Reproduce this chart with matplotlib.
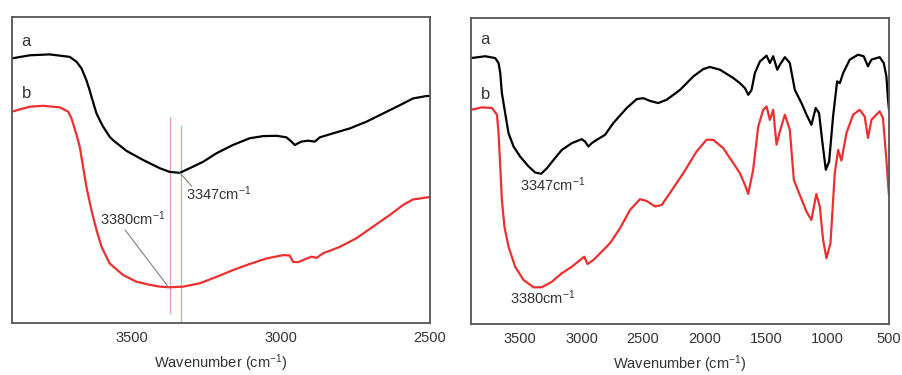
import numpy as np
import matplotlib
matplotlib.use('Agg')
import matplotlib.pyplot as plt

plt.rcParams['font.family'] = ['Liberation Sans', 'DejaVu Sans']
plt.rcParams['mathtext.fontset'] = 'custom'
plt.rcParams['mathtext.rm'] = 'Liberation Sans'
plt.rcParams['mathtext.it'] = 'Liberation Sans'

# ---- left panel: O-H region (arbitrary transmittance units, 0..100) ----
left_wn_a = [3900, 3841, 3774, 3707, 3684, 3667, 3651, 3640, 3634, 3617, 3606,
             3595, 3573, 3562, 3517, 3461, 3405, 3372, 3338, 3305, 3260, 3215,
             3160, 3104, 3059, 3014, 2981, 2964, 2953, 2931, 2909, 2886, 2869,
             2825, 2769, 2713, 2657, 2601, 2557, 2512, 2500]
left_a = [86.4, 87.4, 87.7, 86.9, 85.3, 83.1, 79.3, 76.0, 73.9, 68.4, 66.2,
          64.1, 60.8, 59.7, 56.2, 53.2, 50.5, 49.3, 49.0, 50.5, 52.6, 55.4,
          58.1, 60.3, 61.0, 61.1, 60.6, 59.2, 58.1, 59.2, 59.5, 59.2, 60.6,
          61.9, 63.5, 65.7, 68.4, 71.1, 73.3, 74.1, 74.1]

left_wn_b = [3900, 3841, 3796, 3740, 3712, 3701, 3684, 3673, 3662, 3651, 3634,
             3617, 3600, 3573, 3528, 3483, 3439, 3405, 3372, 3327, 3271, 3215,
             3160, 3104, 3048, 2992, 2970, 2959, 2942, 2925, 2897, 2880, 2858,
             2802, 2747, 2691, 2635, 2590, 2557, 2507, 2500]
left_b = [69.0, 70.6, 70.9, 70.4, 69.0, 66.8, 61.5, 57.5, 51.0, 44.5, 36.8,
          30.3, 24.8, 19.4, 15.6, 13.4, 12.4, 11.8, 11.6, 11.8, 12.9, 15.0,
          17.2, 19.2, 21.0, 22.1, 22.0, 19.9, 19.8, 20.5, 21.6, 21.2, 22.7,
          24.8, 27.6, 31.4, 35.2, 38.5, 40.3, 41.0, 41.0]

# ---- right panel: full spectrum ----
right_wn_a = [3900, 3784, 3703, 3676, 3662, 3649, 3622, 3595, 3554, 3500, 3432,
              3378, 3329, 3283, 3229, 3161, 3080, 2999, 2972, 2945, 2918, 2877,
              2810, 2742, 2633, 2552, 2498, 2444, 2377, 2308, 2200, 2092, 2011,
              1957, 1875, 1767, 1713, 1672, 1645, 1618, 1591, 1550, 1496, 1469,
              1442, 1409, 1388, 1347, 1307, 1266, 1212, 1171, 1131, 1096, 1069,
              1041, 1014, 987, 955, 922, 900, 873, 819, 752, 706, 671, 643, 576,
              543, 521, 508, 500]
right_a = [86.9, 87.5, 86.9, 85.3, 82.0, 75.5, 68.9, 62.4, 58.0, 54.7, 51.5,
           49.5, 49.1, 50.9, 53.6, 56.9, 59.1, 60.4, 59.6, 58.0, 59.1, 60.2,
           61.8, 65.7, 70.6, 73.5, 73.8, 72.9, 72.2, 73.3, 76.5, 80.9, 83.3,
           84.0, 83.1, 80.4, 78.7, 77.1, 74.9, 76.5, 82.0, 85.8, 87.7, 85.3,
           87.5, 83.1, 84.7, 87.2, 85.3, 76.5, 72.2, 68.4, 65.1, 70.6, 68.9,
           59.1, 50.4, 53.1, 67.8, 79.3, 78.7, 82.0, 86.4, 88.0, 87.5, 84.2,
           86.4, 87.2, 85.3, 80.9, 73.3, 70.0]

right_wn_b = [3900, 3811, 3730, 3689, 3676, 3662, 3649, 3628, 3595, 3541, 3473,
              3392, 3324, 3242, 3161, 3080, 3013, 2978, 2953, 2905, 2850, 2769,
              2688, 2606, 2525, 2471, 2403, 2349, 2282, 2173, 2065, 1984, 1930,
              1849, 1767, 1713, 1672, 1645, 1605, 1564, 1523, 1496, 1469, 1442,
              1415, 1388, 1347, 1307, 1274, 1226, 1171, 1131, 1091, 1063, 1036,
              1009, 976, 941, 914, 887, 846, 792, 738, 698, 671, 643, 603, 576,
              549, 521, 508, 500]
right_b = [70.0, 70.8, 70.6, 68.4, 62.4, 51.5, 40.6, 31.8, 25.3, 18.7, 14.4,
           12.0, 12.0, 13.8, 16.6, 18.7, 20.9, 22.0, 19.6, 20.9, 23.1, 26.4,
           31.3, 37.3, 40.8, 40.2, 38.4, 38.9, 42.8, 49.3, 56.4, 60.2, 60.2,
           57.5, 52.6, 49.3, 45.5, 42.5, 50.4, 64.5, 70.0, 71.1, 66.7, 70.0,
           58.6, 62.9, 68.4, 63.5, 47.1, 42.2, 36.7, 34.0, 42.5, 38.4, 27.5,
           21.5, 26.4, 49.3, 56.9, 53.4, 62.4, 68.4, 70.0, 67.8, 60.8, 66.7,
           68.4, 69.5, 67.3, 53.6, 46.0, 42.0]

# peak markers
marker_b = 3372
marker_a = 3335

RED = '#ee2f2f'
FRAME = '#555555'
TEXT = '#333333'
LEADER = '#808080'


def style(ax, xlim, ticks):
    ax.set_xlim(*xlim)
    ax.set_ylim(0, 100)
    ax.set_xticks(ticks)
    ax.set_yticks([])
    ax.tick_params(axis='x', length=0, pad=6, labelsize=10.5, colors=TEXT)
    for s in ax.spines.values():
        s.set_color(FRAME)
        s.set_linewidth(1.3)
    ax.set_xlabel('Wavenumber (cm$^{-1}$)', fontsize=10.5, color=TEXT, labelpad=5)


fig = plt.figure(figsize=(9.03, 3.75), dpi=100)
ax1 = fig.add_axes([0.0133, 0.1393, 0.4629, 0.816])
ax2 = fig.add_axes([0.5216, 0.136, 0.4629, 0.816])

# left
ax1.plot([marker_b, marker_b], [3.2, 67.3], color='#e8a0b8', lw=1.0)
ax1.plot([marker_a, marker_a], [0, 64.3], color='#8fd6a2', lw=1.0)
ax1.plot(left_wn_a, left_a, color='black', lw=1.6)
ax1.plot(left_wn_b, left_b, color=RED, lw=1.6)
ax1.plot([3338, 3299], [49.0, 44.7], color=LEADER, lw=0.8)
ax1.plot([3521, 3377], [30.3, 11.8], color=LEADER, lw=0.8)
ax1.text(3318, 42.3, '3347cm$^{-1}$', fontsize=10.5, color=TEXT, va='center', ha='left')
ax1.text(3606, 34.1, '3380cm$^{-1}$', fontsize=10.5, color=TEXT, va='center', ha='left')
ax1.text(3852, 91.8, 'a', fontsize=12, color=TEXT, ha='center', va='center')
ax1.text(3852, 75.0, 'b', fontsize=12, color=TEXT, ha='center', va='center')
style(ax1, (3900, 2500), [3500, 3000, 2500])

# right
ax2.plot(right_wn_a, right_a, color='black', lw=1.6)
ax2.plot(right_wn_b, right_b, color=RED, lw=1.6)
ax2.text(3500, 45.5, '3347cm$^{-1}$', fontsize=10.5, color=TEXT, va='center', ha='left')
ax2.text(3580, 8.5, '3380cm$^{-1}$', fontsize=10.5, color=TEXT, va='center', ha='left')
ax2.text(3784, 92.9, 'a', fontsize=12, color=TEXT, ha='center', va='center')
ax2.text(3784, 74.9, 'b', fontsize=12, color=TEXT, ha='center', va='center')
style(ax2, (3900, 500), [3500, 3000, 2500, 2000, 1500, 1000, 500])

fig.savefig('out.png', dpi=100)
